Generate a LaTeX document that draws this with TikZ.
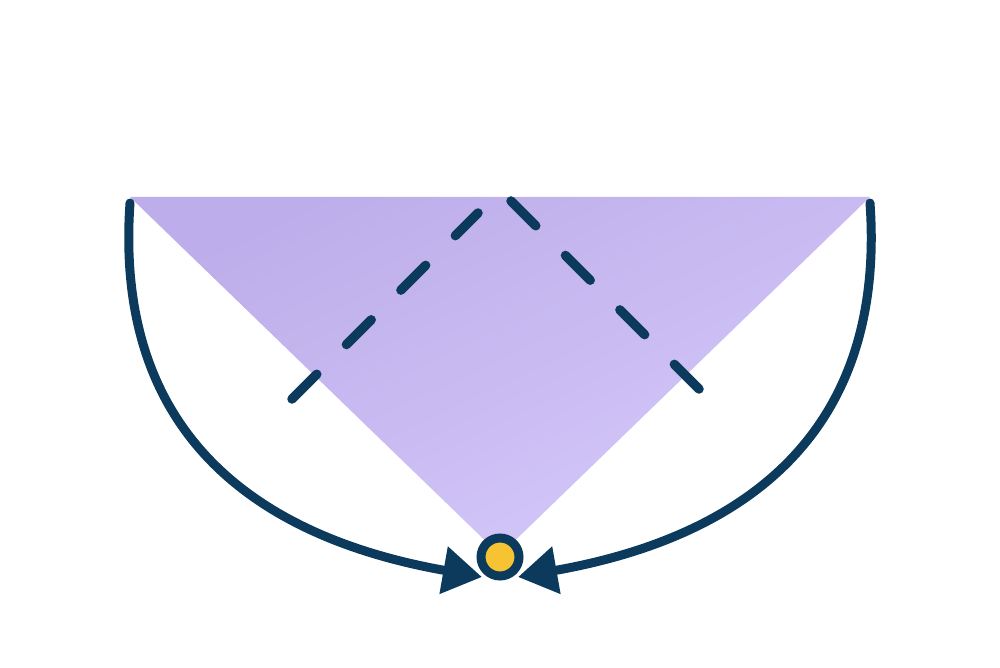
\documentclass[tikz,border=0pt]{standalone}
\usepackage{tikz}
\usetikzlibrary{arrows.meta}
\definecolor{navy}{HTML}{0B3A5C}
\definecolor{sunny}{HTML}{F6C432}
\definecolor{lilacdark}{HTML}{BDADEA}
\definecolor{lilaclight}{HTML}{D5C9FA}
\tikzset{
	curvearrow/.style={line width=0.09cm, color=navy, -{Triangle[length=0.39cm, width=0.46cm]}},
	foldline/.style={line width=0.095cm, color=navy, line cap=round, dash pattern=on 0.35cm off 0.42cm},
	pivot/.style={circle, draw=navy, fill=sunny, line width=0.09cm, minimum size=0.38cm, inner sep=0pt}
}

\begin{document}
\begin{tikzpicture}
			%%%%% START %%%%%
			\useasboundingbox (0, 0) rectangle (10, 6.67);
			
			\coordinate (topleft) at (1.30, 4.70);
			\coordinate (topright) at (8.70, 4.70);
			\coordinate (apex) at (5.00, 1.12);
			\shade[top color=lilacdark, bottom color=lilaclight, shading angle=25] (topleft) -- (topright) -- (apex) -- cycle;
			
			\coordinate (foldA1) at (2.92, 2.68);
			\coordinate (foldA2) at (4.78, 4.54);
			\coordinate (foldB1) at (5.11, 4.66);
			\coordinate (foldB2) at (6.99, 2.78);
			\draw[foldline] (foldA1) -- (foldA2);
			\draw[foldline] (foldB1) -- (foldB2);
			
			\node[pivot] (dot) at (5.00, 1.10) {};
			
			\coordinate (startL) at (1.30, 4.64);
			\coordinate (startR) at (8.70, 4.64);
			\coordinate (tipL) at (4.82, 0.90);
			\coordinate (tipR) at (5.18, 0.90);
			\draw[curvearrow, line cap=round] (startL) to[out=-94, in=170, looseness=1.15] (tipL);
			\draw[curvearrow, line cap=round] (startR) to[out=-86, in=10, looseness=1.15] (tipR);
			
			%%%%% END %%%%%
\end{tikzpicture}
\end{document}
